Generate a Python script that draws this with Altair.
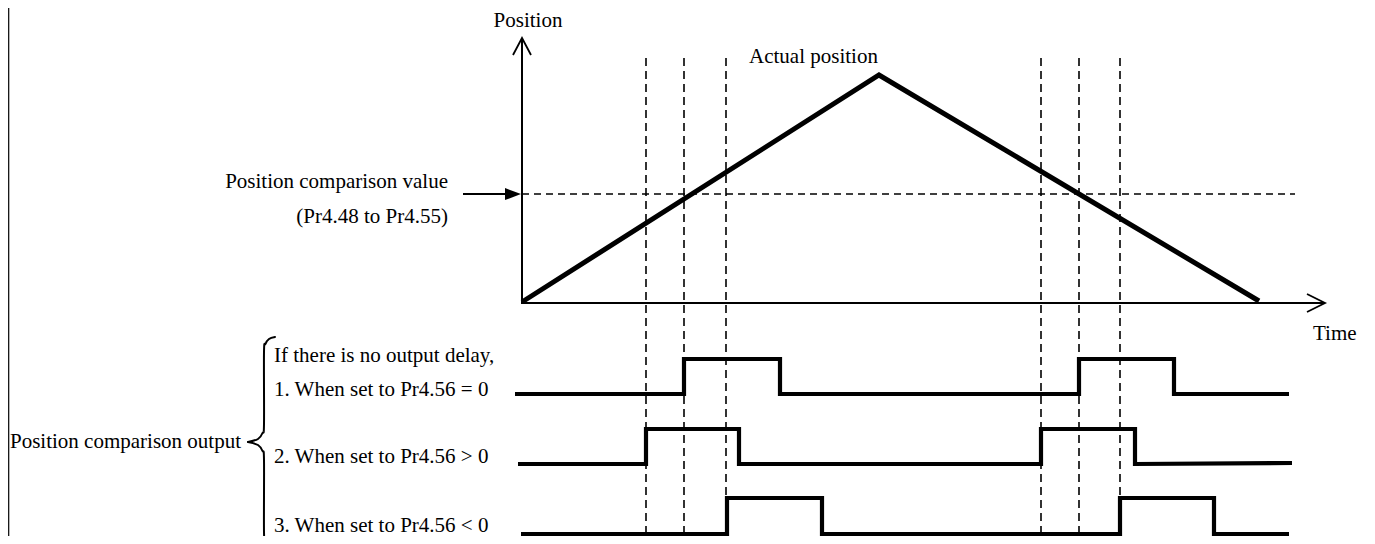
import altair as alt
import pandas as pd

# Chart canvas (plot area spans page pixels 8..1367 x 8..536)
W, H = 1359, 528
X_DOMAIN = [8, 1367]
Y_DOMAIN = [8, 536]
FONT = "Liberation Serif"

# ---- Data ----
# axes (solid thin lines) : y-axis then x-axis
axis_x = [522, 522, 1325]
axis_y = [38, 303, 303]
# open arrowheads
yhead_x = [513, 522, 531]
yhead_y = [55, 38, 55]
xhead_x = [1307, 1325, 1307]
xhead_y = [294, 303, 312]
# actual position (triangle profile)
pos_t = [522, 879, 1259]
pos_v = [302, 75, 301]
# comparison value dashed level
cmp_x = [522, 1295]
cmp_y = [194, 194]
# arrow pointing to comparison value
cmp_arrow_x = [463, 508]
cmp_arrow_y = [194, 194]
cmp_head_x = [513]
cmp_head_y = [194]
# vertical dashed event markers
event_x = [646, 684, 726, 1041, 1079, 1120]
event_top, event_bottom = 58, 534
# output signals (step waveforms)
sig1_x = [515, 684, 684, 780, 780, 1079, 1079, 1174, 1174, 1289]
sig1_y = [394, 394, 359, 359, 394, 394, 359, 359, 394, 394]
sig2_x = [518, 646, 646, 739, 739, 1041, 1041, 1135, 1135, 1292]
sig2_y = [464, 464, 429, 429, 464, 464, 429, 429, 464, 463]
sig3_x = [521, 727, 727, 822, 822, 1120, 1120, 1214, 1214, 1289]
sig3_y = [534, 534, 498, 498, 534, 534, 498, 498, 534, 534]
# curly brace (two halves meeting at the cusp)
brace_top_x = [275, 269, 265.5, 264, 264, 262.5, 258, 248]
brace_top_y = [337, 339, 344, 352, 424, 433, 439, 442]
brace_bot_x = [248, 258, 262.5, 264, 264, 265.5, 269, 275]
brace_bot_y = [442, 445, 451, 460, 532, 540, 545, 547]
# left frame line
frame_x = [8.7, 8.7]
frame_y = [8, 536]

# labels
label_text = [
    "Position", "Actual position", "Position comparison value",
    "(Pr4.48 to Pr4.55)", "Time", "If there is no output delay,",
    "1. When set to Pr4.56 = 0", "2. When set to Pr4.56 > 0",
    "3. When set to Pr4.56 < 0", "Position comparison output",
]
label_x = [528, 749, 448, 448, 1313, 274, 274, 274, 274, 10]
label_y = [27, 63, 188, 223, 340, 362, 396, 463, 532, 448]
label_align = ["center", "left", "right", "right", "left", "left",
               "left", "left", "left", "left"]

xs = alt.Scale(domain=X_DOMAIN, nice=False, zero=False)
ys = alt.Scale(domain=Y_DOMAIN, nice=False, zero=False, reverse=True)


def line_layer(xv, yv, width, groups=None, dash=None, interp="linear", join="miter", cap="butt"):
    df = pd.DataFrame({
        "x": xv, "y": yv, "i": list(range(len(xv))),
        "g": groups if groups is not None else [0] * len(xv),
    })
    kw = dict(color="black", strokeWidth=width, interpolate=interp,
              strokeJoin=join, strokeCap=cap, clip=False)
    if dash:
        kw["strokeDash"] = dash
    return alt.Chart(df).mark_line(**kw).encode(
        x=alt.X("x:Q", scale=xs, axis=None),
        y=alt.Y("y:Q", scale=ys, axis=None),
        detail="g:N",
        order="i:Q",
    )


layers = []
layers.append(line_layer(frame_x, frame_y, 1.2))
layers.append(line_layer(axis_x, axis_y, 2))
layers.append(line_layer(yhead_x, yhead_y, 1.8, join="miter"))
layers.append(line_layer(xhead_x, xhead_y, 1.8, join="miter"))
layers.append(line_layer(cmp_x, cmp_y, 1.6, dash=[7, 5]))

ev_xs = [x for x in event_x for _ in range(2)]
ev_ys = [event_top, event_bottom] * len(event_x)
ev_g = [k for k in range(len(event_x)) for _ in range(2)]
layers.append(line_layer(ev_xs, ev_ys, 1.6, groups=ev_g, dash=[8, 5]))

layers.append(line_layer(pos_t, pos_v, 5, join="miter"))
layers.append(line_layer(sig1_x, sig1_y, 4.2))
layers.append(line_layer(sig2_x, sig2_y, 4.2))
layers.append(line_layer(sig3_x, sig3_y, 4.2))

layers.append(line_layer(cmp_arrow_x, cmp_arrow_y, 2))
head_df = pd.DataFrame({"x": cmp_head_x, "y": cmp_head_y})
layers.append(
    alt.Chart(head_df).mark_point(
        shape="M-1,-0.75L1,0L-1,0.75Z", size=256, filled=True,
        color="black", opacity=1, strokeWidth=0,
    ).encode(
        x=alt.X("x:Q", scale=xs, axis=None),
        y=alt.Y("y:Q", scale=ys, axis=None),
    )
)

brace_xs = brace_top_x + brace_bot_x
brace_ys = brace_top_y + brace_bot_y
brace_g = [0] * len(brace_top_x) + [1] * len(brace_bot_x)
layers.append(line_layer(brace_xs, brace_ys, 2, groups=brace_g, interp="cardinal", join="round", cap="round"))

lab_df = pd.DataFrame({"t": label_text, "x": label_x, "y": label_y, "a": label_align})
for al in ["left", "center", "right"]:
    sub = lab_df[lab_df["a"] == al]
    layers.append(
        alt.Chart(sub).mark_text(
            align=al, baseline="alphabetic", font=FONT, fontSize=21, color="black",
        ).encode(
            x=alt.X("x:Q", scale=xs, axis=None),
            y=alt.Y("y:Q", scale=ys, axis=None),
            text="t:N",
        )
    )

chart = alt.layer(*layers).properties(
    width=W, height=H, padding=0, autosize=alt.AutoSizeParams(type="none"),
    background="white",
).configure_view(stroke=None)

chart.save("out.html", embed_options={"renderer": "svg", "actions": False})
